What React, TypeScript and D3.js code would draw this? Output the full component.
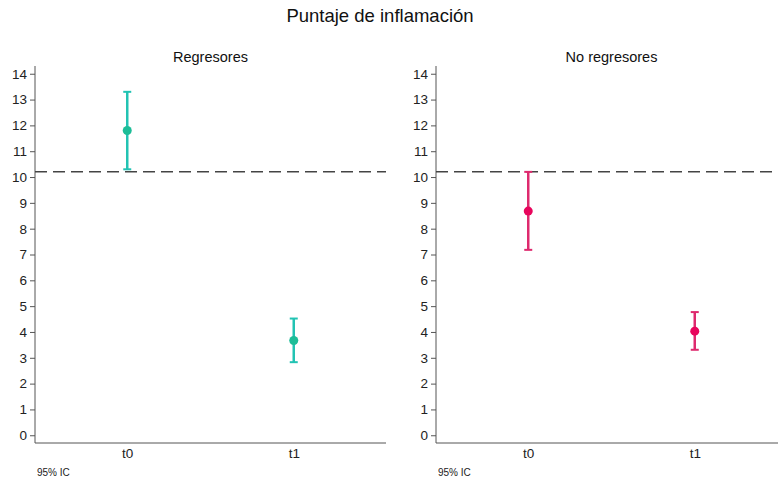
import React, { useEffect, useRef } from "react";
import * as d3 from "d3";

// data
const panels = ["Regresores", "No regresores"];
const times = ["t0", "t1"];
const meanRegresores = [11.8, 3.67];
const lowRegresores = [10.3, 2.83];
const highRegresores = [13.3, 4.52];
const meanNoRegresores = [8.68, 4.03];
const lowNoRegresores = [7.18, 3.31];
const highNoRegresores = [10.2, 4.77];
const yTicks = [0, 1, 2, 3, 4, 5, 6, 7, 8, 9, 10, 11, 12, 13, 14];
const refLine = 10.2;

const lineColors = ["#22c3b3", "#de2a6e"];
const pointColors = ["#1dbd98", "#e8055c"];

const App = () => {
  const svgRef = useRef<SVGSVGElement>(null);

  useEffect(() => {
    const width = 778;
    const height = 485;
    const svg = d3.select(svgRef.current);
    svg.selectAll("*").remove();
    svg.attr("width", width).attr("height", height);

    const font = "'Liberation Sans', Arial, sans-serif";

    svg
      .append("text")
      .attr("x", 380)
      .attr("y", 22)
      .attr("text-anchor", "middle")
      .style("font-family", font)
      .style("font-size", "18.5px")
      .attr("fill", "#111")
      .text("Puntaje de inflamación");

    const series = [
      { mean: meanRegresores, low: lowRegresores, high: highRegresores },
      { mean: meanNoRegresores, low: lowNoRegresores, high: highNoRegresores },
    ];

    const panelLeft = [35, 436];
    const panelWidth = 351;
    const top = 66;
    const bottom = 443;

    const y = d3.scaleLinear().domain([-0.3, 14.3]).range([bottom, top]);

    panels.forEach((name, i) => {
      const g = svg.append("g").attr("transform", `translate(${panelLeft[i]},0)`);
      const x = d3
        .scalePoint()
        .domain(times)
        .range([0, panelWidth])
        .padding(0.554);

      g.append("text")
        .attr("x", panelWidth / 2)
        .attr("y", 62)
        .attr("text-anchor", "middle")
        .style("font-family", font)
        .style("font-size", "14.5px")
        .attr("fill", "#111")
        .text(name);

      // y axis
      const yAxis = g
        .append("g")
        .call(d3.axisLeft(y).tickValues(yTicks).tickSize(5).tickPadding(3).tickFormat(d3.format("d")));
      yAxis.select(".domain").attr("stroke", "#555").attr("d", `M0,${top}V${bottom}`);
      yAxis.selectAll(".tick line").attr("stroke", "#555");
      yAxis
        .selectAll(".tick text")
        .style("font-family", font)
        .style("font-size", "13.5px")
        .attr("fill", "#222");

      // x axis
      const xAxis = g
        .append("g")
        .attr("transform", `translate(0,${bottom})`)
        .call(d3.axisBottom(x).tickSize(0).tickPadding(5));
      xAxis.select(".domain").attr("stroke", "#555").attr("d", `M0,0H${panelWidth}`);
      xAxis
        .selectAll(".tick text")
        .style("font-family", font)
        .style("font-size", "13.5px")
        .attr("fill", "#222");

      // reference line
      g.append("line")
        .attr("x1", 0)
        .attr("x2", panelWidth)
        .attr("y1", y(refLine))
        .attr("y2", y(refLine))
        .attr("stroke", "#444")
        .attr("stroke-width", 1.5)
        .attr("stroke-dasharray", "12,6");

      const s = series[i];
      const pts = times.map((t, j) => ({ t, mean: s.mean[j], low: s.low[j], high: s.high[j] }));

      const eb = g.selectAll(".eb").data(pts).enter().append("g");
      eb.append("line")
        .attr("x1", (d) => x(d.t)!)
        .attr("x2", (d) => x(d.t)!)
        .attr("y1", (d) => y(d.low))
        .attr("y2", (d) => y(d.high))
        .attr("stroke", lineColors[i])
        .attr("stroke-width", 2.5);
      ["low", "high"].forEach((k) => {
        eb.append("line")
          .attr("x1", (d) => x(d.t)! - 4)
          .attr("x2", (d) => x(d.t)! + 4)
          .attr("y1", (d: any) => y(d[k]))
          .attr("y2", (d: any) => y(d[k]))
          .attr("stroke", lineColors[i])
          .attr("stroke-width", 2);
      });
      eb.append("circle")
        .attr("cx", (d) => x(d.t)!)
        .attr("cy", (d) => y(d.mean))
        .attr("r", 4.5)
        .attr("fill", pointColors[i]);

      g.append("text")
        .attr("x", 2)
        .attr("y", 476)
        .style("font-family", font)
        .style("font-size", "10px")
        .attr("fill", "#222")
        .text("95% IC");
    });
  }, []);

  return (
    <svg
      ref={svgRef}
      style={{ position: "absolute", left: 0, top: 0, background: "#fff" }}
    ></svg>
  );
};

export default App;
